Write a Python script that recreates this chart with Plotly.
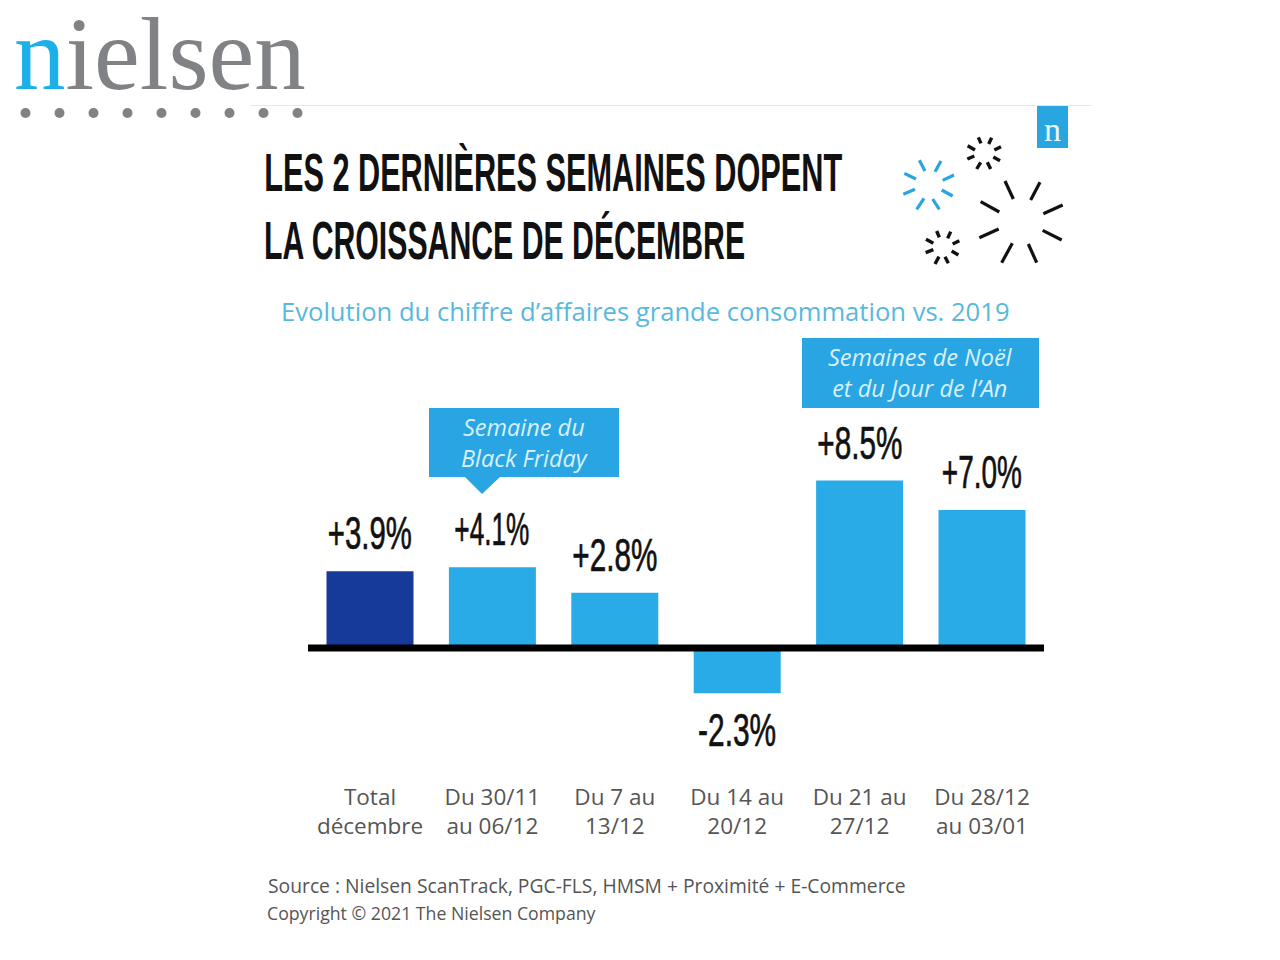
import json
import plotly.graph_objects as go

categories = ["Total<br>décembre", "Du 30/11<br>au 06/12", "Du 7 au<br>13/12",
              "Du 14 au<br>20/12", "Du 21 au<br>27/12", "Du 28/12<br>au 03/01"]
values = [3.9, 4.1, 2.8, -2.3, 8.5, 7.0]
value_labels = ["+3.9%", "+4.1%", "+2.8%", "-2.3%", "+8.5%", "+7.0%"]
bar_colors = ["#153A9A", "#29ABE8", "#29ABE8", "#29ABE8", "#29ABE8", "#29ABE8"]
title_lines = ["LES 2 DERNIÈRES SEMAINES DOPENT", "LA CROISSANCE DE DÉCEMBRE"]

W, H = 1280, 960
def px(x): return x / W
def py(y): return 1 - y / H

STEP = 122.4
X0 = 370
PX_PER_UNIT = 19.7
Y0 = 648
TOP, BOTTOM = 330, 781
LEFT, RIGHT = 308, 1044

fig = go.Figure(go.Bar(
    x=list(range(len(values))), y=values, width=87 / STEP,
    marker=dict(color=bar_colors, line=dict(width=0)), hoverinfo="skip",
))

shapes = []
def line(x0, y0, x1, y1, color, w):
    shapes.append(dict(type="line", xref="paper", yref="paper", x0=px(x0), y0=py(y0), x1=px(x1), y1=py(y1),
                       line=dict(color=color, width=w)))
def rect(x0, y0, x1, y1, color):
    shapes.append(dict(type="rect", xref="paper", yref="paper", x0=px(x0), y0=py(y0), x1=px(x1), y1=py(y1),
                       fillcolor=color, line=dict(width=0), layer="below"))

# baseline drawn over the bars
shapes.append(dict(type="line", xref="paper", yref="y", x0=px(LEFT), x1=px(RIGHT), y0=0, y1=0,
                   line=dict(color="#000000", width=7)))

# header rule and corner badge
line(250, 105.5, 1092, 105.5, "#E8E8E8", 1)
rect(1037, 105, 1068, 148, "#29A5DF")

# callouts
BLUE = "#29A5E3"
rect(429, 408, 619, 477, BLUE)
rect(802, 338, 1039, 408, BLUE)
path = f"M {px(465)},{py(477)} L {px(500)},{py(477)} L {px(482)},{py(494)} Z"
shapes.append(dict(type="path", xref="paper", yref="paper", path=path, fillcolor=BLUE, line=dict(width=0)))

# logo dots
for i in range(9):
    cx = 25.5 + 34 * i
    shapes.append(dict(type="circle", xref="paper", yref="paper", x0=px(cx - 5), x1=px(cx + 5),
                       y0=py(113 + 5), y1=py(113 - 5), fillcolor="#808285", line=dict(width=0)))

# fireworks (traced in 3x crop coordinates with origin 880,95)
big = [(375,258,400,312),(480,262,452,315),(548,330,490,356),(545,435,488,406),
       (445,447,470,503),(397,445,365,503),(298,428,356,402),(302,320,358,351)]
blue = [(118,196,135,228),(183,198,165,230),(222,240,188,256),(218,303,185,285),
        (158,312,178,343),(132,310,110,343),(70,298,105,283),(73,235,108,252)]
up = [(295,127,303,145),(335,128,326,147),(363,155,343,165),(360,197,340,186),
      (322,202,332,222),(302,202,290,222),(262,192,283,183),(263,152,285,165)]
low = [(170,408,178,427),(212,410,203,430),(238,437,218,447),(235,480,215,468),
       (195,485,205,505),(177,485,165,507),(137,473,160,464),(138,433,160,445)]
for group, col, w in [(big, "#111111", 3.2), (blue, "#29A5DF", 3.2), (up, "#111111", 3.4), (low, "#111111", 3.4)]:
    for a, b, c, d in group:
        line(880 + a / 3, 95 + b / 3, 880 + c / 3, 95 + d / 3, col, w)

ann = []
def text(s, x, y, size, color, family="Open Sans", anchor="left", weight=None):
    ann.append(dict(text=s, xref="paper", yref="paper", x=px(x), y=py(y), xanchor=anchor, yanchor="middle",
                    showarrow=False, font=dict(size=size, color=color, family=family, weight=weight)))

text("<span style='color:#1CB0E8'>n</span>ielsen", 12, 54, 103, "#808285", "Liberation Serif")
text("n", 1052, 129, 34, "#E8F6FC", "Liberation Serif", anchor="center")
text(title_lines[0], 553, 173, 53, "#111111", "Liberation Sans", anchor="center", weight=700)
text(title_lines[1], 504.5, 241, 53, "#111111", "Liberation Sans", anchor="center", weight=700)
text("Evolution du chiffre d’affaires grande consommation vs. 2019", 279, 312, 25.6, "#58B9DC")
text("<i>Semaine du<br>Black Friday</i>", 524, 442, 23.5, "#D9F1FB", anchor="center")
text("<i>Semaines de Noël<br>et du Jour de l’An</i>", 920, 372.5, 23.5, "#D9F1FB", anchor="center")
text("Source : Nielsen ScanTrack, PGC-FLS, HMSM + Proximité + E-Commerce", 266, 885, 19.3, "#555555")
text("Copyright © 2021 The Nielsen Company", 265, 913, 17.7, "#555555")

for i, (v, lab) in enumerate(zip(values, value_labels)):
    ann.append(dict(text=lab, x=i, y=v, xref="x", yref="y", showarrow=False,
                    yanchor="bottom" if v >= 0 else "top", yshift=10 if v >= 0 else -9,
                    font=dict(size=46, color="#111111", family="Liberation Sans")))

fig.update_layout(
    width=W, height=H, autosize=False, margin=dict(l=0, r=0, t=0, b=0),
    paper_bgcolor="white", plot_bgcolor="rgba(0,0,0,0)", showlegend=False,
    shapes=shapes, annotations=ann,
    xaxis=dict(domain=[px(LEFT), px(RIGHT)],
               range=[(LEFT - X0) / STEP, (RIGHT - X0) / STEP],
               tickmode="array", tickvals=list(range(len(categories))), ticktext=categories,
               tickfont=dict(family="Open Sans", size=22.5, color="#555555"),
               ticklen=0, showgrid=False, zeroline=False, showline=False,
               anchor="free", position=py(BOTTOM)),
    yaxis=dict(domain=[py(BOTTOM), py(TOP)],
               range=[(Y0 - BOTTOM) / PX_PER_UNIT, (Y0 - TOP) / PX_PER_UNIT],
               visible=True, showticklabels=False, ticklen=0, showgrid=False, showline=False,
               zeroline=False),
)

# the reference uses a condensed display face: squeeze the live text to its measured widths
condensed_widths = {
    title_lines[0]: 578, title_lines[1]: 481,
    "+3.9%": 84, "+4.1%": 75, "+2.8%": 85, "-2.3%": 78, "+8.5%": 85, "+7.0%": 80,
}
post = """
document.body.style.margin = '0';
var widths = %s;
var labels = %s;
function squeeze() {
  document.querySelectorAll('.annotation-text').forEach(function (t) {
    var s = t.textContent, w = widths[s];
    if (w) { t.setAttribute('textLength', w); t.setAttribute('lengthAdjust', 'spacingAndGlyphs'); }
    if (labels.indexOf(s) >= 0) { t.style.stroke = '#111111'; t.style.strokeWidth = '0.7px'; }
  });
}
squeeze();
setTimeout(squeeze, 50);
setTimeout(squeeze, 300);
""" % (json.dumps(condensed_widths, ensure_ascii=False), json.dumps(value_labels))
fig.write_html("out.html", config={"displayModeBar": False}, post_script=post)
